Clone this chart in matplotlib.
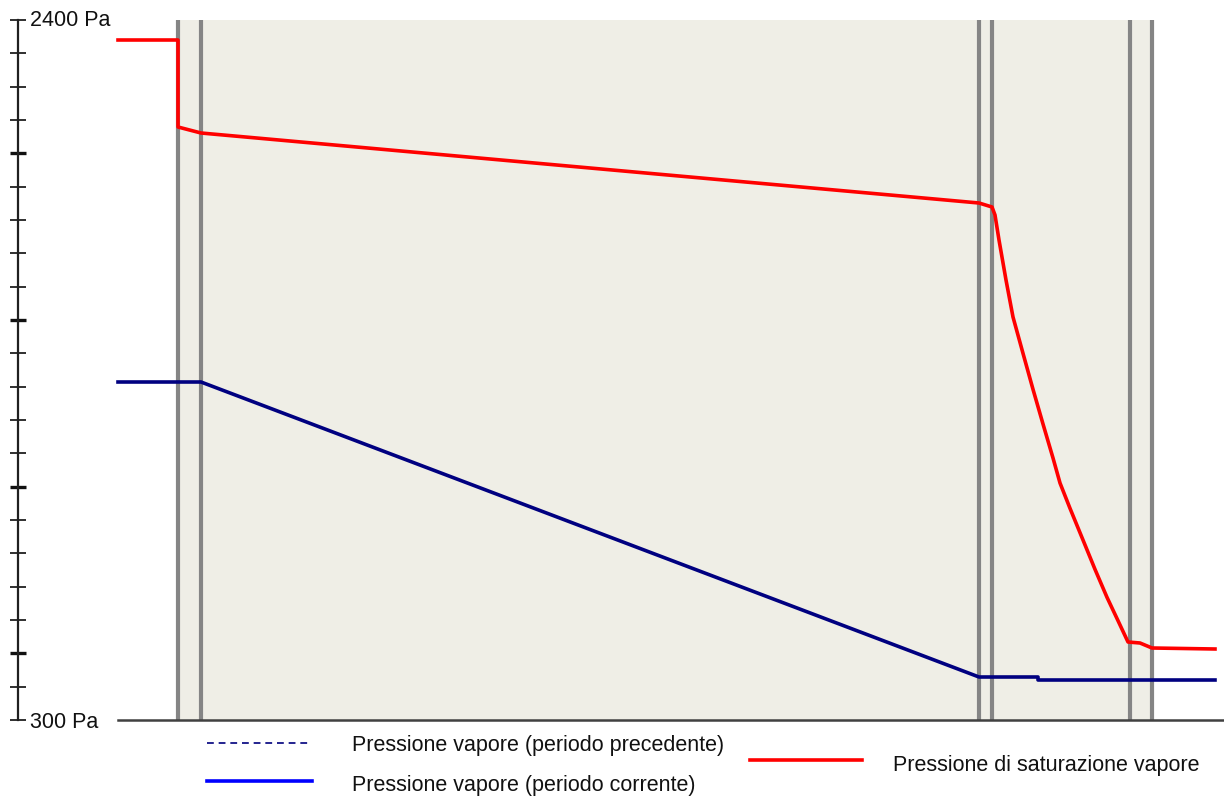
import matplotlib
matplotlib.use("Agg")
import matplotlib.pyplot as plt
from matplotlib.lines import Line2D

plt.rcParams['font.family'] = ['Liberation Sans', 'DejaVu Sans']

# Layer boundaries (x positions along the wall section)
boundaries = [60, 83, 861, 874, 1012, 1034]

# Saturation vapour pressure (Pa)
sat_x = [0, 60, 60, 83, 861, 874, 877, 881, 888, 895, 905, 915, 925, 935, 942, 952, 965,
         977, 989, 1000, 1010, 1022, 1034, 1097]
sat_p = [2340, 2340, 2079, 2061, 1851, 1839, 1815, 1740, 1620, 1509, 1400, 1292, 1188, 1086,
         1011, 935, 840, 752, 668, 598, 534, 531, 516, 513]

# Vapour pressure, current period (Pa)
vap_x = [0, 83, 861, 920, 920, 1097]
vap_p = [1314, 1314, 429, 429, 420, 420]

y_min, y_max = 300, 2400
y_labels = ["2400 Pa", "300 Pa"]
legend_labels = ["Pressione vapore (periodo precedente)",
                 "Pressione vapore (periodo corrente)",
                 "Pressione di saturazione vapore"]

W, H = 1224, 796
fig = plt.figure(figsize=(W / 100, H / 100), dpi=100)
ax = fig.add_axes([18 / W, (H - 720) / H, (W - 18) / W, 700 / H])
ax.set_xlim(-100, W - 118)
ax.set_ylim(y_min, y_max)

# background shaded region
ax.axvspan(boundaries[0], boundaries[-1], color='#EFEEE6', zorder=0, lw=0)
for b in boundaries:
    ax.axvline(b, color='#858585', lw=3.0, zorder=1)

# bottom line
ax.plot([0, W - 118], [y_min, y_min], color='#404040', lw=1.8, clip_on=False, zorder=3)

ax.plot(sat_x, sat_p, color='#FF0000', lw=2.6, zorder=4)
ax.plot(vap_x, vap_p, color='#000080', lw=2.6, zorder=4)

# axis styling
for s in ['top', 'right', 'bottom']:
    ax.spines[s].set_visible(False)
ax.spines['left'].set_color('#202020')
ax.spines['left'].set_linewidth(1.6)
ax.set_xticks([])
major = list(range(500, 2401, 500))
minor = [v for v in range(300, 2401, 100) if v not in major]
ax.set_yticks(major)
ax.set_yticks(minor, minor=True)
ax.set_yticklabels([])
ax.tick_params(axis='y', which='major', direction='inout', length=12, width=2.4, color='#101010')
ax.tick_params(axis='y', which='minor', direction='inout', length=11, width=1.3, color='#202020')
ax.set_facecolor('white')

def ftext(x, y, s, **kw):
    fig.text(x / W, 1 - y / H, s, fontsize=15.5, color='#111111', va='center', ha='left', **kw)

ftext(30, 21, y_labels[0])
ftext(30, 722, y_labels[1])

# legend
fig.add_artist(Line2D([207 / W, 312 / W], [1 - 743 / H, 1 - 743 / H], color='#24248f', lw=1.4,
                      dashes=(3.5, 2.5)))
fig.add_artist(Line2D([207 / W, 312 / W], [1 - 781 / H, 1 - 781 / H], color='#0000FF', lw=2.6))
fig.add_artist(Line2D([750 / W, 862 / W], [1 - 760 / H, 1 - 760 / H], color='#FF0000', lw=2.6))
ftext(352, 745, legend_labels[0])
ftext(352, 785, legend_labels[1])
ftext(893, 765, legend_labels[2])

fig.savefig('out.png', dpi=100, facecolor='white')
